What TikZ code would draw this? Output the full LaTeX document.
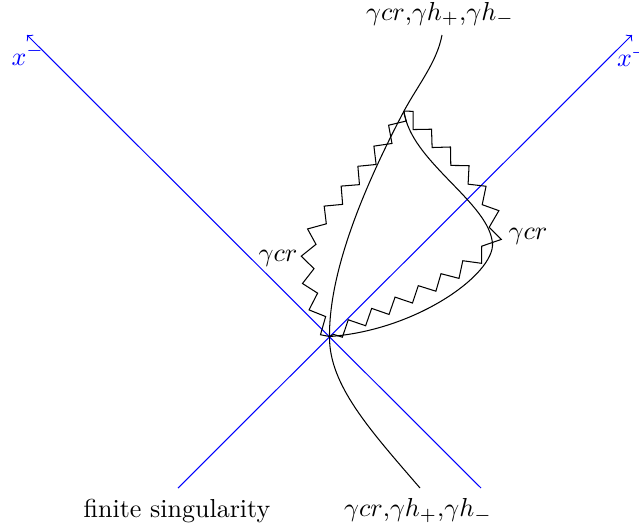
\documentclass[tikz,border=0pt]{standalone}
\usetikzlibrary{decorations.pathmorphing}
\begin{document}
\begin{tikzpicture}[x=0.3846pt,y=-0.3846pt,
  axisline/.style={blue,->},
  zz/.style={decorate,decoration={zigzag,segment length=10pt,amplitude=2.5pt}},
  lbl/.style={inner sep=0pt,anchor=base}]
\useasboundingbox (0,0) rectangle (639,527);
% points
\coordinate (O) at (329.5,336.5);
\coordinate (xmS) at (481,488);
\coordinate (xmE) at (27,35);
\coordinate (xpS) at (178,488);
\coordinate (xpE) at (632,35);
\coordinate (bot) at (420,488);
\coordinate (top) at (404,111);
\coordinate (tip) at (442,35);
\coordinate (rmid) at (495,235);
\coordinate (lmid) at (320,222);
\coordinate (rcurve) at (492,240);
% axes
\draw[axisline] (xmS) -- (xmE);
\draw[axisline] (xpS) -- (xpE);
\node[blue,inner sep=0pt,anchor=base west] (xm) at (11,65) {$x^-$};
\node[blue,inner sep=0pt,anchor=base west] (xp) at (616.5,66.5) {$x^+$};
% main curve
\draw (bot) .. controls (370,430) and (329,385) .. (O)
      .. controls (329,270) and (365,185) .. (top)
      .. controls (418,85) and (437,62) .. (tip);
% right smooth curve
\draw (O) .. controls (420,330) and (500,270) .. (rcurve)
      .. controls (485,200) and (410,160) .. (top);
% zigzags
\draw[zz] (O) .. controls (305,300) and (300,245) .. (lmid)
      .. controls (340,195) and (385,150) .. (top);
\draw[zz] (top) .. controls (440,150) and (500,190) .. (rmid)
      .. controls (490,265) and (400,300) .. (O);
% labels
\node[lbl] (ltop) at (440,20) {$\gamma cr$,$\gamma h_+$,$\gamma h_-$};
\node[lbl] (lbot) at (418,516.7) {$\gamma cr$,$\gamma h_+$,$\gamma h_-$};
\node[lbl] (lfin) at (177,517.3) {finite singularity};
\node[lbl] (lleft) at (278,261) {$\gamma cr$};
\node[lbl] (lright) at (528,239) {$\gamma cr$};
\end{tikzpicture}
\end{document}
